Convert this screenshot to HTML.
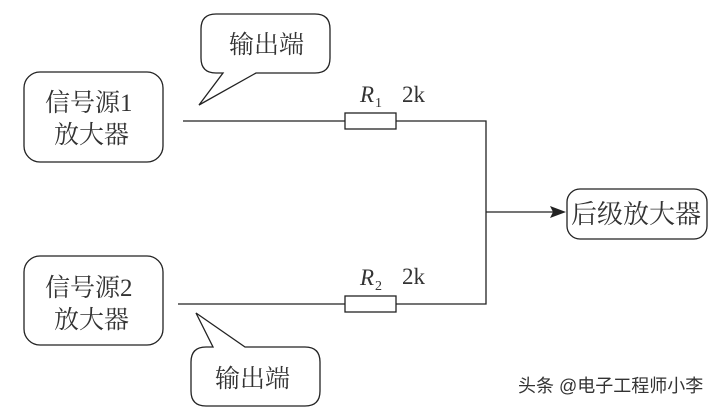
<!DOCTYPE html>
<html><head><meta charset="utf-8"><style>
body{margin:0;background:#fff}
svg{display:block}
text{font-family:"Liberation Serif","Noto Serif CJK SC",serif;fill:#333}
</style></head><body>
<svg width="715" height="413" viewBox="0 0 715 413" xmlns="http://www.w3.org/2000/svg">
<g fill="none" stroke="#222" stroke-width="1.3">
<rect x="24" y="72" width="139" height="90" rx="16"/>
<rect x="24" y="256" width="139" height="89" rx="16"/>
<rect x="567" y="189" width="140" height="50" rx="13"/>
<path d="M223 73 H216 Q201 73 201 58 V29 Q201 14 216 14 H315 Q330 14 330 29 V58 Q330 73 315 73 H256 L199 105 Z"/>
<path d="M213 347 H206 Q191 347 191 362 V391 Q191 406 206 406 H305 Q320 406 320 391 V362 Q320 347 305 347 H245 L196 313 Z"/>
<path d="M183 121 H345 M396 121 H486 V304 H396 M345 304 H178 M486 212 H553"/>
<rect x="345" y="113" width="51" height="16"/>
<rect x="345" y="296" width="51" height="16"/>
</g>
<path d="M566 212 L550 206 L553 212 L550 218 Z" fill="#222"/>
<g font-size="25">
<text x="45" y="111">信号源1</text><text x="54" y="143">放大器</text>
<text x="45" y="296">信号源2</text><text x="54" y="328">放大器</text>
<text x="571" y="223" font-size="26">后级放大器</text>
<text x="229" y="53">输出端</text>
<text x="215" y="387">输出端</text>
</g>
<g font-size="23">
<text x="360" y="102" font-style="italic">R</text><text x="375" y="107" font-size="14">1</text>
<text x="402" y="102">2k</text>
<text x="360" y="285" font-style="italic">R</text><text x="375" y="290" font-size="14">2</text>
<text x="402" y="284">2k</text>
</g>
<text x="518" y="392" font-size="18" style="font-family:'Liberation Sans','Noto Sans CJK SC',sans-serif" fill="#444">头条 @电子工程师小李</text>
</svg>
</body></html>
